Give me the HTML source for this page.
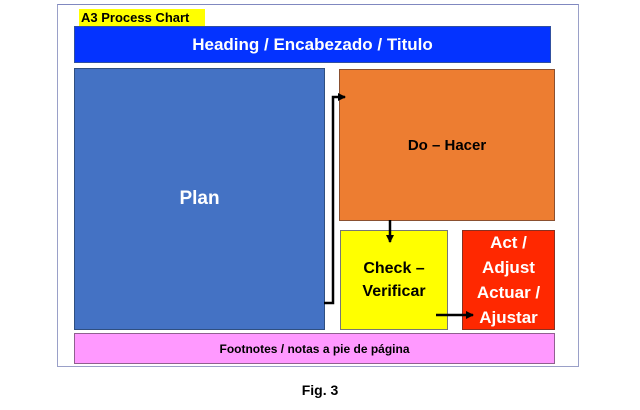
<!DOCTYPE html>
<html><head><style>
body{margin:0;width:640px;height:410px;background:#fff;position:relative;overflow:hidden;font-family:"Liberation Sans",sans-serif}
.b{position:absolute;box-sizing:border-box;display:flex;align-items:center;justify-content:center;text-align:center;font-weight:bold}
</style></head><body>
<div class="b" style="left:57px;top:4px;width:522px;height:363px;border:1px solid #9aa0c8;border-top-color:#8088c0"></div>
<div class="b" style="left:79px;top:9px;width:126px;height:17px;background:#ffff00;font-size:13px;color:#000;justify-content:flex-start;padding-left:2px">A3 Process Chart</div>
<div class="b" style="left:74px;top:26px;width:477px;height:37px;background:#0433ff;border:1px solid #3050a0;color:#fff;font-size:17px">Heading / Encabezado / Titulo</div>
<div class="b" style="left:74px;top:68px;width:251px;height:262px;background:#4472c4;border:1px solid #2f4f80;color:#fff;font-size:19px">Plan</div>
<div class="b" style="left:339px;top:69px;width:216px;height:152px;background:#ed7d31;border:1px solid #8a5030;color:#000;font-size:15px">Do – Hacer</div>
<div class="b" style="left:340px;top:230px;width:108px;height:100px;background:#ffff00;border:1px solid #777;color:#000;font-size:16px;line-height:23px">Check –<br>Verificar</div>
<div class="b" style="left:462px;top:230px;width:93px;height:100px;background:#ff2800;border:1px solid #8a3020;color:#fff;font-size:17px;line-height:25px;font-family:'Liberation Sans Narrow','Liberation Sans',sans-serif">Act /<br>Adjust<br>Actuar /<br>Ajustar</div>
<div class="b" style="left:74px;top:333px;width:481px;height:31px;background:#ff99ff;border:1px solid #906090;color:#000;font-size:12px">Footnotes / notas a pie de página</div>
<div class="b" style="left:0;top:380px;width:640px;height:20px;font-size:14px;color:#000">Fig. 3</div>
<svg style="position:absolute;left:0;top:0" width="640" height="410">
<defs><marker id="a" markerWidth="8" markerHeight="8" refX="7" refY="4" orient="auto" markerUnits="userSpaceOnUse"><path d="M0,0 L8,4 L0,8z" fill="#000"/></marker></defs>
<polyline points="324,303 333,303 333,97 345,97" fill="none" stroke="#000" stroke-width="2.5" marker-end="url(#a)"/>
<line x1="390" y1="220" x2="390" y2="242" stroke="#000" stroke-width="2.5" marker-end="url(#a)"/>
<line x1="436" y1="315" x2="473" y2="315" stroke="#000" stroke-width="2.5" marker-end="url(#a)"/>
</svg>
</body></html>
